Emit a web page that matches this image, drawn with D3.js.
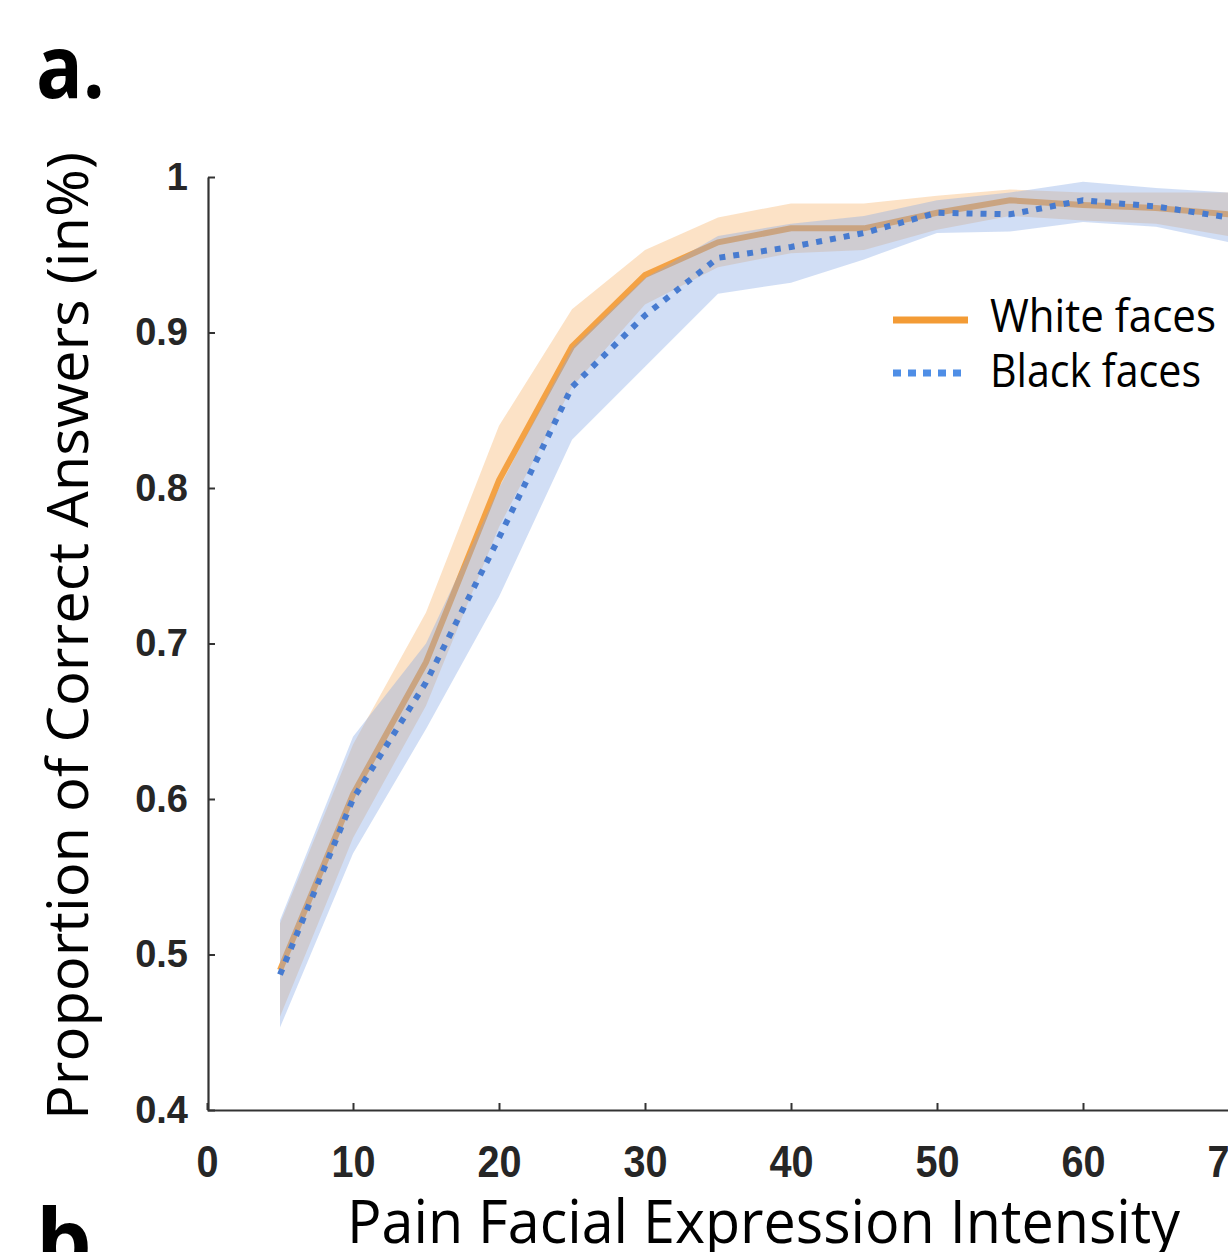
<!DOCTYPE html>
<html>
<head>
<meta charset="utf-8">
<script src="https://cdn.jsdelivr.net/npm/d3@7"></script>
<style>
  html, body { margin: 0; padding: 0; background: #fff; }
  svg { display: block; }
</style>
</head>
<body>
<svg id="chart" width="1228" height="1252"></svg>
<script>
// ---- Data ----
const intensity   = [5, 10, 15, 20, 25, 30, 35, 40, 45, 50, 55, 60, 65, 70];
const whiteMean   = [0.490, 0.603, 0.688, 0.805, 0.891, 0.937, 0.958, 0.967, 0.967, 0.977, 0.985, 0.982, 0.980, 0.976];
const whiteUpper  = [0.520, 0.635, 0.720, 0.840, 0.915, 0.953, 0.974, 0.983, 0.983, 0.988, 0.992, 0.990, 0.990, 0.990];
const whiteLower  = [0.460, 0.575, 0.660, 0.775, 0.865, 0.918, 0.942, 0.951, 0.953, 0.966, 0.975, 0.972, 0.970, 0.962];
const blackMean   = [0.487, 0.600, 0.675, 0.768, 0.865, 0.911, 0.948, 0.955, 0.964, 0.977, 0.976, 0.985, 0.981, 0.974];
const blackUpper  = [0.522, 0.640, 0.700, 0.800, 0.890, 0.935, 0.962, 0.970, 0.975, 0.985, 0.990, 0.997, 0.993, 0.990];
const blackLower  = [0.453, 0.565, 0.645, 0.730, 0.831, 0.878, 0.925, 0.932, 0.947, 0.964, 0.965, 0.971, 0.968, 0.958];
const xTickValues = [0, 10, 20, 30, 40, 50, 60, 70];
const xTickLabels = ["0", "10", "20", "30", "40", "50", "60", "70"];
const yTickValues = [0.4, 0.5, 0.6, 0.7, 0.8, 0.9, 1.0];
const yTickLabels = ["0.4", "0.5", "0.6", "0.7", "0.8", "0.9", "1"];
const seriesNames = ["White faces", "Black faces"];

// ---- Layout ----
const svg = d3.select("#chart");
const x = d3.scaleLinear().domain([0, 70]).range([207, 1229]);
const y = d3.scaleLinear().domain([0.4, 1.0]).range([1110, 177]);

const white = intensity.map((v, i) => ({x: v, m: whiteMean[i], lo: whiteLower[i], hi: whiteUpper[i]}));
const black = intensity.map((v, i) => ({x: v, m: blackMean[i], lo: blackLower[i], hi: blackUpper[i]}));

const area = d3.area().x(d => x(d.x)).y0(d => y(d.lo)).y1(d => y(d.hi));
const line = d3.line().x(d => x(d.x)).y(d => y(d.m));

const orange = "#f39b35";
const blue = "#477bd0";

// bands & lines
svg.append("path").attr("d", area(white)).attr("fill", "#f8b46a").attr("fill-opacity", 0.38);
svg.append("path").attr("d", line(white)).attr("fill", "none").attr("stroke", orange)
   .attr("stroke-width", 6).attr("stroke-opacity", 0.9);
svg.append("path").attr("d", area(black)).attr("fill", "#86a9e6").attr("fill-opacity", 0.38);
svg.append("path").attr("d", line(black)).attr("fill", "none").attr("stroke", blue)
   .attr("stroke-width", 6).attr("stroke-dasharray", "6,8");

// axes
const axisColor = "#333";
const yAxis = d3.axisLeft(y).tickValues(yTickValues)
  .tickFormat((d, i) => yTickLabels[i]).tickSize(-7).tickSizeOuter(0).tickPadding(20);
const gy = svg.append("g").attr("transform", "translate(208,0)").call(yAxis);
gy.select(".domain").attr("stroke", axisColor).attr("stroke-width", 2.2);
gy.selectAll(".tick line").attr("stroke", axisColor).attr("stroke-width", 2);
gy.selectAll(".tick text")
  .attr("font-family", "'Liberation Sans', Arial, sans-serif")
  .attr("font-weight", "bold").attr("font-size", 38).attr("fill", "#262626");

const xAxis = d3.axisBottom(x).tickValues(xTickValues)
  .tickFormat((d, i) => xTickLabels[i]).tickSize(-7).tickSizeOuter(0).tickPadding(35);
const gx = svg.append("g").attr("transform", "translate(0,1110)").call(xAxis);
gx.select(".domain").attr("stroke", axisColor).attr("stroke-width", 2.2);
gx.selectAll(".tick line").attr("stroke", axisColor).attr("stroke-width", 2);
gx.selectAll(".tick text")
  .attr("font-family", "'Liberation Sans', Arial, sans-serif")
  .attr("font-weight", "bold").attr("font-size", 45).attr("fill", "#262626")
  .attr("transform", "scale(0.88,1)");
// keep tick labels centered despite scaling
gx.selectAll(".tick text").attr("x", 0);

// axis titles
svg.append("text")
  .attr("transform", "translate(88,636) rotate(-90)")
  .attr("text-anchor", "middle")
  .attr("font-family", "'Open Sans', sans-serif").attr("font-size", 56)
  .attr("textLength", 968).attr("lengthAdjust", "spacingAndGlyphs")
  .attr("fill", "#000")
  .text("Proportion of Correct Answers (in%)");

svg.append("text")
  .attr("x", 347).attr("y", 1243)
  .attr("font-family", "'Open Sans', sans-serif").attr("font-size", 60)
  .attr("textLength", 833).attr("lengthAdjust", "spacingAndGlyphs")
  .attr("fill", "#000")
  .text("Pain Facial Expression Intensity");

// panel letters
svg.append("text").attr("x", 36).attr("y", 98)
  .attr("font-family", "'Open Sans', sans-serif").attr("font-weight", "bold").attr("font-size", 88)
  .attr("textLength", 69).attr("lengthAdjust", "spacingAndGlyphs")
  .text("a.");
svg.append("text").attr("x", 36).attr("y", 1272)
  .attr("font-family", "'Open Sans', sans-serif").attr("font-weight", "bold").attr("font-size", 88)
  .text("b.");

// legend
const lg = svg.append("g");
lg.append("line").attr("x1", 893).attr("x2", 968).attr("y1", 320).attr("y2", 320)
  .attr("stroke", orange).attr("stroke-width", 7);
lg.append("line").attr("x1", 893).attr("x2", 968).attr("y1", 373).attr("y2", 373)
  .attr("stroke", "#4f8ee6").attr("stroke-width", 7).attr("stroke-dasharray", "8,7");
lg.append("text").attr("x", 990).attr("y", 332)
  .attr("font-family", "'Open Sans', sans-serif").attr("font-size", 46)
  .attr("textLength", 226).attr("lengthAdjust", "spacingAndGlyphs")
  .text(seriesNames[0]);
lg.append("text").attr("x", 990).attr("y", 387)
  .attr("font-family", "'Open Sans', sans-serif").attr("font-size", 46)
  .attr("textLength", 211).attr("lengthAdjust", "spacingAndGlyphs")
  .text(seriesNames[1]);
</script>
</body>
</html>
